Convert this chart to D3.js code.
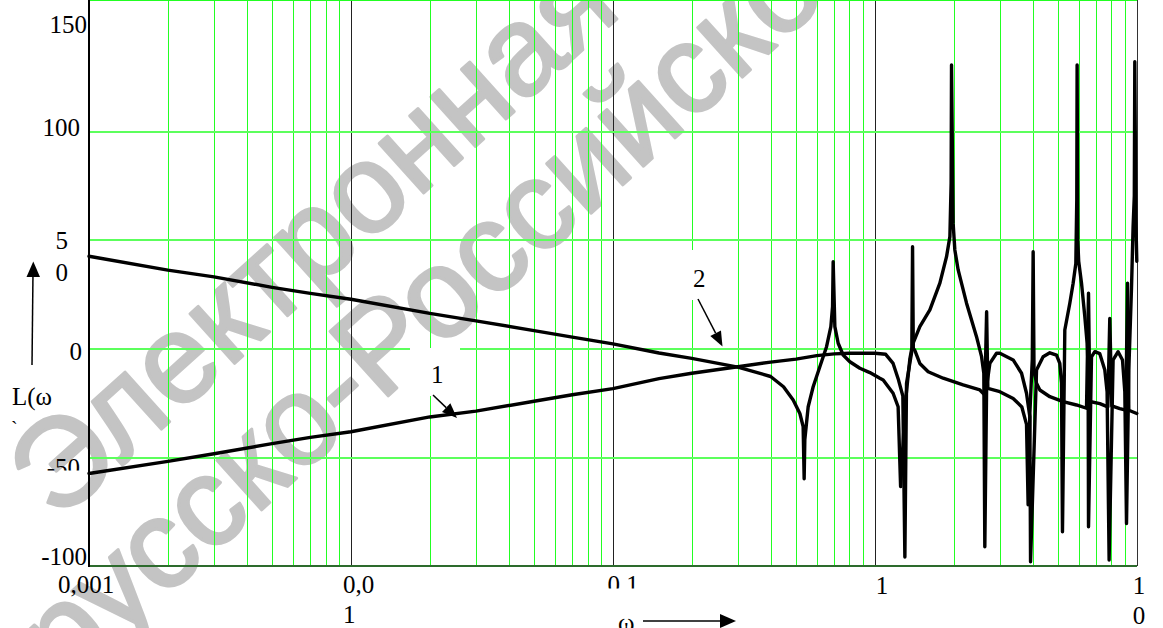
<!DOCTYPE html>
<html>
<head>
<meta charset="utf-8">
<script src="https://cdn.jsdelivr.net/npm/d3@7"></script>
<style>
  body { margin: 0; background: #fff; }
  svg { display: block; }
</style>
</head>
<body>
<svg id="chart" width="1163" height="628"></svg>
<script>
// curve 1 : rising branch, arches and the two wide resonances
var omega1 = [0.001, 0.002, 0.003, 0.005, 0.007, 0.01, 0.02, 0.03, 0.05, 0.07, 0.1, 0.15, 0.2, 0.3, 0.4, 0.5, 0.6, 0.7, 0.8, 1.0,
  1.1, 1.174, 1.227, 1.279, 1.302, 1.321, 1.40, 1.485, 1.622, 1.771, 1.878, 1.934, 1.955, 1.962, 1.990, 2.020, 2.080, 2.239, 2.444, 2.555,
  2.606, 2.629, 2.671, 2.748, 2.914, 3.0, 3.373, 3.631, 3.793, 3.906, 3.930, 4.142, 4.389, 4.656, 4.937, 5.082, 5.158, 5.203, 5.311, 5.550,
  5.714, 5.851, 5.900, 5.918, 5.950, 6.0, 6.151, 6.332, 6.462, 6.518, 6.541, 6.715, 6.913, 7.224, 7.549, 7.702, 7.840, 8.120, 8.485, 8.818,
  9.0, 9.135, 9.322, 9.546, 9.680, 9.783, 9.826, 9.913, 10];
var level1 = [-57.6, -52.0, -48.5, -43.9, -41.0, -38.4, -31.6, -28.9, -24.4, -21.4, -18.6, -14.0, -11.5, -8.5, -6.4, -5.0, -3.4, -2.6, -2.3, -2.3,
  -2.8, -7, -14, -22, -96, -16.1, 2.3, 9.9, 17.6, 29.9, 42.1, 51.3, 75.8, 130.2, 57.4, 45.2, 36.0, 20.7, 5.3, -3.9,
  -11.5, -91.3, -17.6, -7, -2.3, -2.3, -5.4, -11.5, -20.7, -31.5, -98.2, -10, -3.9, -2.1, -3.2, -7, -16, -84.4, 8.4, 20.7,
  29.9, 39, 68.2, 130.2, 50, 40, 29.9, 14.5, 2.3, -8.4, -82.1, -4, -1.6, -2.5, -10, -20, -97.4, -5.4, -1.6, -5.4,
  -20, -80.6, -10, 28, 55.9, 70, 131.7, 60, 40];

// curve 2 : falling branch, narrow resonances and the falling base line
var omega2 = [0.001, 0.002, 0.003, 0.005, 0.007, 0.01, 0.02, 0.03, 0.05, 0.07, 0.1, 0.15, 0.2, 0.3, 0.4, 0.448, 0.4877, 0.5173, 0.5324, 0.5372,
  0.5404, 0.5565, 0.5815, 0.6166, 0.6541, 0.6793, 0.6895, 0.6932, 0.7036, 0.7244, 0.7568, 0.8028, 0.8766, 0.957, 1.045, 1.076, 1.174, 1.227, 1.254, 1.308,
  1.360, 1.384, 1.393, 1.402, 1.421, 1.485, 1.598, 1.823, 2.173, 2.517, 2.629, 2.671, 2.700, 3.0, 3.373, 3.640, 3.793, 3.847, 3.906, 3.991,
  4.021, 4.051, 4.142, 4.264, 4.656, 5.082, 5.231, 5.886, 6.427, 6.541, 6.617, 7.224, 7.750, 7.886, 8.027, 8.611, 9.078, 9.216, 9.322, 10];
var level2 = [42.3, 35.9, 32.8, 28.0, 25.2, 22.5, 16.0, 12.6, 8.1, 5.1, 2.0, -2.2, -4.7, -8.7, -13.0, -17.7, -23.8, -30, -36, -60,
  -42, -26.9, -17.7, -8.5, 0.7, 9.9, 19.1, 39.8, 9.9, 2.3, -3.1, -6.2, -9.2, -11.2, -13.8, -14.6, -20.7, -26.9, -63.6, -25,
  -5, 0, 46.7, 0, -1, -7, -10.8, -13.8, -16.9, -19.2, -21.5, 16.8, -18.5, -20, -23.1, -27, -35, -72, -30, -5,
  44.4, -10, -16.1, -19.2, -22.3, -24, -24.6, -26.1, -27.6, 25.3, -24.5, -25.5, -27, 13.7, -26.5, -27.8, -28.5, 29.9, -28.5, -30];

var yTickValues = [150, 100, 50, 0, -50, -100];
var yTickLabels = [["150"], ["100"], ["5", "0"], ["0"], ["-50"], ["-100"]];
var xTickValues = [0.001, 0.01, 0.1, 1, 10];
var xTickLabels = [["0,001"], ["0,0", "1"], ["0,1"], ["1"], ["1", "0"]];
var yGridValues = [100, 50, 0, -50];
var curveNames = ["1", "2"];
var watermark = ["Электронная библиотека", "Белорусско-Российского университета"];

var svg = d3.select("#chart"),
  serif = "'Liberation Serif', 'Times New Roman', serif",
  green = "#22ff22",
  x = d3.scaleLog().domain([0.001, 10]).range([89, 1136.8]),
  y = d3.scaleLinear().domain([-100, 150]).range([565.7, 22]),
  left = x.range()[0], right = x.range()[1],
  top = y(150), bottom = y(-100),
  crisp = function(v) { return Math.round(v) + 0.5; };

svg.append("rect").attr("width", 1163).attr("height", 628).attr("fill", "#fff");

// watermark, under the grid
var wm = svg.append("g")
  .attr("transform", "rotate(-42)")
  .attr("font-family", "'Liberation Sans', Arial, sans-serif")
  .attr("font-size", 126)
  .attr("fill", "#c4c4c4")
  .attr("stroke", "#c4c4c4")
  .attr("stroke-width", 3)
  .attr("stroke-linejoin", "round");

function placeMark(str, idx, along, base) {
  var t = wm.append("text").attr("x", 0).attr("y", base).text(str),
    node = t.node(),
    off = node.getSubStringLength(0, idx) + node.getSubStringLength(idx, 1) / 2;
  t.attr("x", along - off);
}
placeMark(watermark[0], 3, -49, 427);
placeMark(watermark[1], 8, -127, 554);

// grid
var grid = svg.append("g").attr("shape-rendering", "crispEdges");

grid.selectAll("line.v")
  .data(x.ticks().filter(function(d) { return d > 0.001 && d < 10; }))
  .enter().append("line")
  .attr("class", "v")
  .attr("x1", function(d) { return crisp(x(d)); })
  .attr("x2", function(d) { return crisp(x(d)); })
  .attr("y1", top).attr("y2", bottom)
  .attr("stroke", function(d) {
    var lg = Math.log10(d);
    return Math.abs(lg - Math.round(lg)) < 1e-6 ? "#222" : green;
  })
  .attr("stroke-width", 1);

grid.selectAll("line.h")
  .data(yGridValues)
  .enter().append("line")
  .attr("class", "h")
  .attr("x1", left).attr("x2", right)
  .attr("y1", function(d) { return crisp(y(d)); })
  .attr("y2", function(d) { return crisp(y(d)); })
  .attr("stroke", "#5cff5c")
  .attr("stroke-width", 2);

// frame
grid.append("line").attr("x1", left).attr("x2", right).attr("y1", top + 1.5).attr("y2", top + 1.5)
  .attr("stroke", "#333").attr("stroke-width", 1);
grid.append("line").attr("x1", left).attr("x2", right).attr("y1", top).attr("y2", top)
  .attr("stroke", green).attr("stroke-width", 2);
grid.append("line").attr("x1", crisp(right)).attr("x2", crisp(right)).attr("y1", top).attr("y2", bottom)
  .attr("stroke", "#333").attr("stroke-width", 1);
grid.append("line").attr("x1", left).attr("x2", right).attr("y1", bottom).attr("y2", bottom)
  .attr("stroke", "#2d6b2d").attr("stroke-width", 2);
grid.append("line").attr("x1", left).attr("x2", left).attr("y1", top - 1).attr("y2", bottom + 1)
  .attr("stroke", "#000").attr("stroke-width", 2);

// boxes behind the curve numbers
svg.append("rect").attr("x", 410).attr("y", 348).attr("width", 50).attr("height", 48).attr("fill", "#fff");
svg.append("rect").attr("x", 681).attr("y", 250).attr("width", 34).attr("height", 50).attr("fill", "#fff");

// curves
var line = d3.line()
  .x(function(d) { return x(d[0]); })
  .y(function(d) { return y(d[1]); });

var series = [d3.zip(omega1, level1), d3.zip(omega2, level2)];

svg.append("g").selectAll("path")
  .data(series)
  .enter().append("path")
  .attr("d", line)
  .attr("fill", "none")
  .attr("stroke", "#000")
  .attr("stroke-width", 3.4)
  .attr("stroke-linejoin", "round")
  .attr("stroke-linecap", "round");

// y tick labels
var yOffsets = { "150": [87, 11], "100": [80, 5.5], "50": [68, 10], "0": [82, 11.5], "-50": [80, 19], "-100": [87, -0.5] };
var defs = svg.append("defs");
defs.append("clipPath").attr("id", "clipM50").append("rect").attr("x", 0).attr("y", 440).attr("width", 88).attr("height", 30.5);
defs.append("clipPath").attr("id", "clipX01").append("rect").attr("x", 590).attr("y", 570).attr("width", 70).attr("height", 18.5);

var yLab = svg.append("g").attr("font-family", serif).attr("font-size", 25).attr("fill", "#000");
yTickValues.forEach(function(v, i) {
  var o = yOffsets[String(v)],
    t = yLab.append("text").attr("text-anchor", "end");
  if (v === -50) t.attr("clip-path", "url(#clipM50)");
  yTickLabels[i].forEach(function(s, k) {
    t.append("tspan").attr("x", o[0]).attr("y", y(v) + o[1] + k * 32).text(s);
  });
});

// x tick labels
var xOffsets = [[-31, 593], [-8, 593], [-5.5, 593], [1, 594], [-4, 594]];
var xLab = svg.append("g").attr("font-family", serif).attr("font-size", 25).attr("fill", "#000");
xTickValues.forEach(function(v, i) {
  var o = xOffsets[i],
    t = xLab.append("text");
  if (v === 0.1) t.attr("clip-path", "url(#clipX01)");
  xTickLabels[i].forEach(function(s, k) {
    t.append("tspan").attr("x", x(v) + o[0]).attr("y", o[1] + k * 30).text(s);
  });
});

// axis titles with arrows
var ann = svg.append("g").attr("font-family", serif).attr("font-size", 25).attr("fill", "#000");
ann.append("text").attr("x", 12).attr("y", 405).text("L(ω");
ann.append("text").attr("x", 11).attr("y", 436).attr("font-size", 20).text("`");
ann.append("line").attr("x1", 32).attr("y1", 365).attr("x2", 33).attr("y2", 272)
  .attr("stroke", "#000").attr("stroke-width", 1.5);
ann.append("path").attr("d", "M33.3,261.5 L26.5,277 L40,277 Z").attr("fill", "#000");

ann.append("text").attr("x", 618).attr("y", 631).text("ω");
ann.append("line").attr("x1", 643).attr("y1", 621).attr("x2", 722).attr("y2", 621)
  .attr("stroke", "#000").attr("stroke-width", 1.5);
ann.append("path").attr("d", "M736,621 L720,614 L720,628 Z").attr("fill", "#000");

// curve numbers
function pointer(x1, y1, x2, y2) {
  var a = Math.atan2(y2 - y1, x2 - x1), len = 15, w = 6,
    bx = x2 - len * Math.cos(a), by = y2 - len * Math.sin(a);
  ann.append("line").attr("x1", x1).attr("y1", y1).attr("x2", bx).attr("y2", by)
    .attr("stroke", "#000").attr("stroke-width", 1.5);
  ann.append("path")
    .attr("d", "M" + x2 + "," + y2 +
      "L" + (bx + w * Math.sin(a)) + "," + (by - w * Math.cos(a)) +
      "L" + (bx - w * Math.sin(a)) + "," + (by + w * Math.cos(a)) + "Z")
    .attr("fill", "#000");
}
ann.append("text").attr("x", 431).attr("y", 383).text(curveNames[0]);
pointer(433, 395, 457, 418);
ann.append("text").attr("x", 693).attr("y", 287).text(curveNames[1]);
pointer(698, 299, 722.5, 346.5);
</script>
</body>
</html>
